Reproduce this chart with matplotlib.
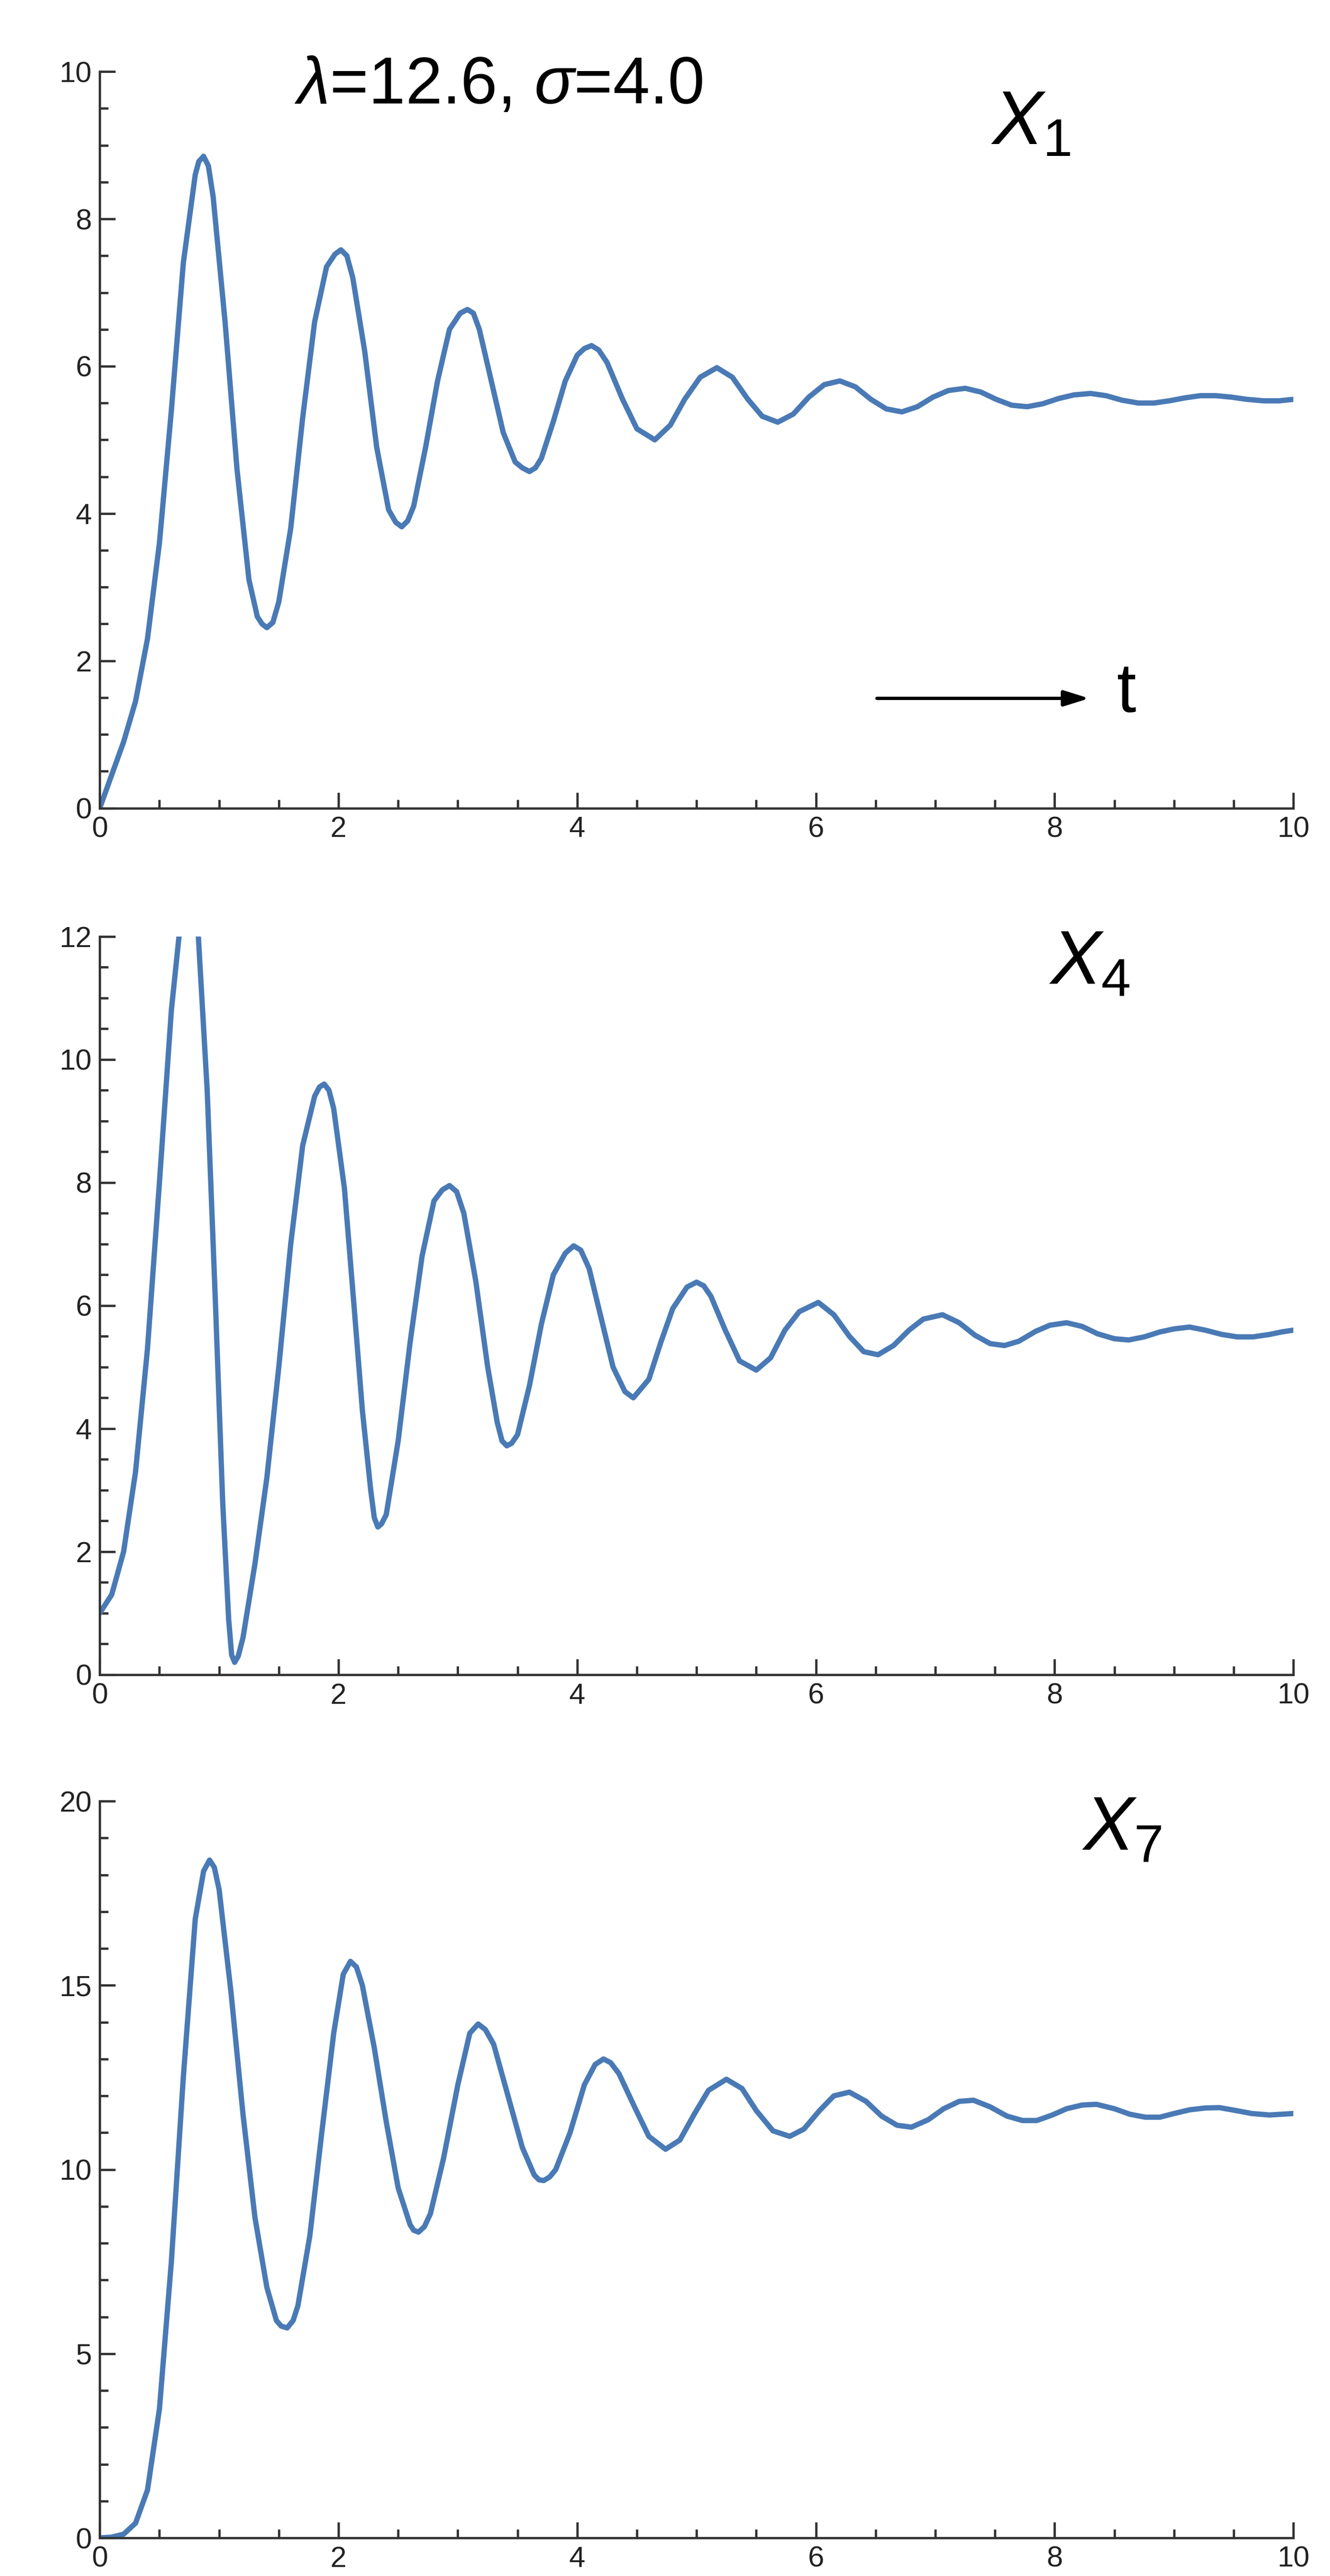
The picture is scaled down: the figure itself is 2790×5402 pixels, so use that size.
import matplotlib
matplotlib.use("Agg")
import matplotlib.pyplot as plt
from matplotlib.ticker import MultipleLocator

plt.rcParams['font.family'] = ['Liberation Sans', 'DejaVu Sans']

t1 = [0,0.1,0.2,0.3,0.4,0.5,0.6,0.7,0.8,0.87,0.95,1.05,1.15,1.25,1.32,1.4,1.5,1.6,1.7,1.8,1.9,2.02,2.12,2.22,2.32,2.42,2.53,2.63,2.73,2.83,2.93,3.08,3.18,3.28,3.38,3.48,3.6,3.7,3.8,3.9,4.0,4.12,4.25,4.38,4.5,4.65,4.78,4.9,5.03,5.17,5.3,5.43,5.55,5.68,5.81,5.94,6.07,6.2,6.33,6.46,6.59,6.72,6.85,6.98,7.11,7.25,7.38,7.51,7.64,7.77,7.9,8.03,8.16,8.3,8.43,8.56,8.7,8.83,8.96,9.09,9.22,9.35,9.48,9.61,9.75,9.88,10,
      0.83,0.91,1.36,1.45,1.97,2.07,2.48,2.58,3.02,3.13,3.54,3.65,4.06,4.18]
x1 = [0,0.45,0.9,1.45,2.3,3.6,5.4,7.4,8.6,8.85,8.3,6.6,4.6,3.1,2.6,2.45,2.8,3.8,5.3,6.6,7.35,7.58,7.2,6.2,4.9,4.05,3.82,4.1,4.9,5.8,6.5,6.77,6.5,5.8,5.1,4.7,4.57,4.75,5.25,5.8,6.15,6.28,6.05,5.55,5.15,5.0,5.2,5.55,5.85,5.98,5.85,5.55,5.32,5.24,5.35,5.58,5.75,5.8,5.72,5.55,5.42,5.38,5.45,5.58,5.67,5.7,5.65,5.55,5.47,5.45,5.49,5.56,5.61,5.63,5.6,5.54,5.5,5.5,5.53,5.57,5.6,5.6,5.58,5.55,5.53,5.53,5.55,
      8.78,8.72,2.5,2.52,7.52,7.5,3.88,3.9,6.72,6.72,4.62,4.62,6.24,6.22]

t4 = [0,0.1,0.2,0.3,0.4,0.5,0.6,0.68,0.75,0.82,0.9,0.97,1.03,1.08,1.13,1.2,1.3,1.4,1.5,1.6,1.7,1.8,1.88,1.96,2.05,2.13,2.2,2.27,2.33,2.4,2.5,2.6,2.7,2.8,2.93,3.05,3.15,3.25,3.33,3.41,3.5,3.6,3.7,3.8,3.97,4.1,4.2,4.3,4.4,4.47,4.6,4.7,4.8,5.0,5.12,5.24,5.36,5.5,5.62,5.74,5.86,6.02,6.15,6.28,6.4,6.52,6.65,6.78,6.9,7.06,7.2,7.33,7.46,7.58,7.7,7.84,7.96,8.1,8.23,8.36,8.5,8.62,8.75,8.88,9.0,9.13,9.26,9.4,9.53,9.66,9.8,9.9,10,
      1.105,1.16,1.84,1.92,2.3,2.36,2.87,2.99,3.37,3.45,3.9,4.03,4.92,5.06]
x4 = [1.0,1.3,2.0,3.3,5.3,8.0,10.8,12.3,12.8,12.2,9.5,6.0,2.8,0.9,0.2,0.6,1.8,3.2,5.0,7.0,8.6,9.4,9.6,9.2,7.9,6.0,4.3,3.0,2.4,2.6,3.8,5.4,6.8,7.7,7.95,7.5,6.4,5.0,4.1,3.72,3.9,4.7,5.7,6.5,6.97,6.6,5.8,5.0,4.6,4.5,4.8,5.4,5.95,6.38,6.15,5.6,5.1,4.95,5.15,5.6,5.9,6.05,5.85,5.5,5.25,5.2,5.35,5.6,5.78,5.85,5.72,5.52,5.38,5.35,5.42,5.58,5.68,5.72,5.66,5.54,5.46,5.44,5.49,5.57,5.62,5.65,5.6,5.53,5.49,5.49,5.53,5.57,5.6,
      0.32,0.3,9.55,9.5,2.55,2.45,7.88,7.85,3.8,3.76,6.85,6.9,6.3,6.32]

t7 = [0,0.1,0.2,0.3,0.4,0.5,0.6,0.7,0.8,0.92,1.0,1.1,1.2,1.3,1.4,1.48,1.57,1.66,1.76,1.86,1.96,2.1,2.2,2.3,2.4,2.5,2.6,2.67,2.77,2.88,3.0,3.17,3.3,3.42,3.54,3.64,3.72,3.82,3.94,4.06,4.22,4.35,4.48,4.6,4.74,4.86,4.98,5.1,5.25,5.38,5.5,5.64,5.78,5.9,6.03,6.15,6.28,6.42,6.55,6.68,6.8,6.94,7.07,7.2,7.32,7.46,7.6,7.73,7.85,7.98,8.1,8.23,8.35,8.5,8.63,8.76,8.88,9.0,9.13,9.26,9.38,9.52,9.65,9.8,9.9,10,
      0.87,0.96,1.52,1.62,2.04,2.15,2.63,2.72,3.1,3.23,3.68,3.77,4.15,4.28]
x7 = [0,0.02,0.1,0.4,1.3,3.5,7.5,12.5,16.8,18.4,17.6,14.8,11.5,8.7,6.8,5.9,5.7,6.3,8.2,11.0,13.7,15.65,15.0,13.3,11.3,9.5,8.5,8.3,8.8,10.3,12.3,13.95,13.4,12.0,10.6,9.85,9.7,10.0,11.0,12.3,13.0,12.6,11.7,10.9,10.55,10.8,11.5,12.15,12.45,12.2,11.6,11.05,10.9,11.1,11.6,12.0,12.1,11.85,11.45,11.2,11.15,11.35,11.65,11.85,11.88,11.7,11.45,11.33,11.33,11.48,11.65,11.75,11.77,11.65,11.5,11.42,11.42,11.52,11.62,11.67,11.68,11.6,11.52,11.48,11.5,11.52,
      18.1,18.2,5.75,5.9,15.3,15.5,8.35,8.45,13.7,13.8,9.72,9.8,12.85,12.9]

panels = [
    (t1, x1, 10, 2, 0.5, [0.075, 0.6863, 0.8975, 0.2859], r"$X_1$", (7.8, 9.28)),
    (t4, x4, 12, 2, 0.5, [0.075, 0.3499, 0.8975, 0.2866], r"$X_4$", (8.29, 11.54)),
    (t7, x7, 20, 5, 1, [0.075, 0.0148, 0.8975, 0.2860], r"$X_7$", (8.56, 19.2)),
]

plt.rcParams['mathtext.fontset'] = 'custom'
plt.rcParams['mathtext.rm'] = 'Liberation Sans'
plt.rcParams['mathtext.it'] = 'Liberation Sans:italic'
fig = plt.figure(figsize=(27.9, 54.02), dpi=100)
for i, (t, x, ymax, ymaj, ymin, rect, lab, lpos) in enumerate(panels):
    pts = sorted(zip(t, x))
    ts = [p[0] for p in pts]
    xs = [p[1] for p in pts]
    ax = fig.add_axes(rect)
    ax.plot(ts, xs, color='#4a7ab5', lw=8, solid_joinstyle='round', solid_capstyle='round')
    ax.set_xlim(0, 10)
    ax.set_ylim(0, ymax)
    for s in ['top', 'right']:
        ax.spines[s].set_visible(False)
    for s in ['left', 'bottom']:
        ax.spines[s].set_color('#333333')
        ax.spines[s].set_linewidth(3.5)
    ax.xaxis.set_major_locator(MultipleLocator(2))
    ax.xaxis.set_minor_locator(MultipleLocator(0.5))
    ax.yaxis.set_major_locator(MultipleLocator(ymaj))
    ax.yaxis.set_minor_locator(MultipleLocator(ymin))
    ax.tick_params(which='major', direction='in', length=24, width=3.5, labelsize=44,
                   color='#333333', labelcolor='#222222', pad=12)
    ax.tick_params(which='minor', direction='in', length=13, width=3.5, color='#333333')
    ax.text(lpos[0], lpos[1], lab, fontsize=115, ha='center', va='center')
    if i == 0:
        ax.text(3.34, 9.8, r"$\lambda$=12.6, $\sigma$=4.0", fontsize=100, ha='center', va='center')
        ax.annotate('', xy=(8.3, 1.49), xytext=(6.5, 1.49),
                    arrowprops=dict(arrowstyle='-|>,head_length=3.2,head_width=1.0',
                                    color='black', lw=5))
        ax.text(8.6, 1.55, 't', fontsize=105, ha='center', va='center')

fig.savefig('out.png', dpi=100)
